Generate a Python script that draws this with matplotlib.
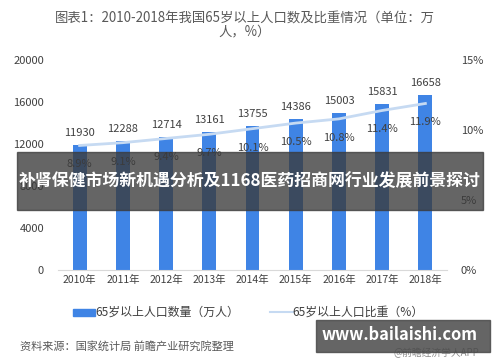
import matplotlib
matplotlib.use("Agg")
import matplotlib.pyplot as plt
from matplotlib.patches import Rectangle
from matplotlib.lines import Line2D

plt.rcParams['font.family'] = ['Noto Sans CJK SC', 'DejaVu Sans']

years = ['2010年', '2011年', '2012年', '2013年', '2014年', '2015年', '2016年', '2017年', '2018年']
population = [11930, 12288, 12714, 13161, 13755, 14386, 15003, 15831, 16658]
ratio = [8.9, 9.1, 9.4, 9.7, 10.1, 10.5, 10.8, 11.4, 11.9]
left_ticks = [0, 4000, 8000, 12000, 16000, 20000]
right_ticks = [0, 5, 10, 15]

bar_color = '#3f84e5'
line_color = '#c6daf2'
text_color = '#404040'

fig = plt.figure(figsize=(5, 3.62), dpi=100)
ax = fig.add_axes([0.116, 0.254, 0.778, 0.58])
x = list(range(len(years)))
ax.bar(x, population, width=0.32, color=bar_color, zorder=2)
ax.set_ylim(0, 20000)
ax.set_xlim(-0.5, len(years) - 0.5)
ax.set_yticks(left_ticks)
ax.set_yticklabels([str(v) for v in left_ticks])
ax.set_xticks(x)
ax.set_xticklabels(years)
ax.tick_params(axis='both', length=0, labelsize=7.5, colors=text_color)
ax.tick_params(axis='y', pad=10, labelsize=8)
for s in ['top', 'left', 'right']:
    ax.spines[s].set_visible(False)
ax.spines['bottom'].set_color('#d9d9d9')

for xi, v in zip(x, population):
    ax.annotate(str(v), (xi, v), xytext=(0, 5), textcoords='offset points',
                ha='center', va='bottom', fontsize=8, color=text_color)

ax2 = ax.twinx()
ax2.plot(x, ratio, color=line_color, lw=2.0, zorder=3)
ax2.set_ylim(0, 15)
ax2.set_yticks(right_ticks)
ax2.set_yticklabels([f'{v}%' for v in right_ticks])
ax2.tick_params(axis='y', length=0, labelsize=8, colors=text_color, pad=10)
for s in ['top', 'left', 'right', 'bottom']:
    ax2.spines[s].set_visible(False)
for xi, v in zip(x, ratio):
    ax2.annotate(f'{v}%', (xi, v), xytext=(0, -10), textcoords='offset points',
                 ha='center', va='top', fontsize=8, color=text_color)

fig.text(0.49, 0.968, '图表1：2010-2018年我国65岁以上人口数及比重情况（单位：万\n人，%）',
         ha='center', va='top', fontsize=9.6, color='#595959', linespacing=0.9)

# legend
fig.patches.append(Rectangle((0.146, 0.128), 0.044, 0.018, transform=fig.transFigure,
                             color=bar_color, figure=fig))
fig.text(0.19, 0.137, '65岁以上人口数量（万人）', ha='left', va='center', fontsize=8.6, color=text_color)
fig.lines.append(Line2D([0.54, 0.585], [0.137, 0.137], transform=fig.transFigure,
                        color=line_color, lw=1.5))
fig.text(0.585, 0.137, '65岁以上人口比重（%）', ha='left', va='center', fontsize=8.6, color=text_color)

fig.text(0.04, 0.042, '资料来源：国家统计局 前瞻产业研究院整理', ha='left', va='center',
         fontsize=8, color='#595959', style='italic')

# overlay banner
fig.patches.append(Rectangle((0.034, 0.42), 0.932, 0.16, transform=fig.transFigure,
                             color='#3a3a3a', alpha=0.78, figure=fig, zorder=10))
fig.text(0.5, 0.5, '补肾保健市场新机遇分析及1168医药招商网行业发展前景探讨', ha='center', va='center',
         fontsize=12.2, color='white', fontweight='bold', zorder=11)

fig.text(0.958, 0.025, '@前瞻经济学人APP', ha='right', va='center', fontsize=7, color='#8c8c8c', zorder=9)
fig.patches.append(Rectangle((0.632, 0.028), 0.348, 0.088, transform=fig.transFigure,
                             color='#4a4a4a', alpha=0.85, figure=fig, zorder=10))
fig.text(0.8, 0.075, 'www.bailaishi.com', ha='center', va='center', fontsize=11.8,
         color='white', fontweight='bold', zorder=11)

fig.savefig('out.png', dpi=100)
